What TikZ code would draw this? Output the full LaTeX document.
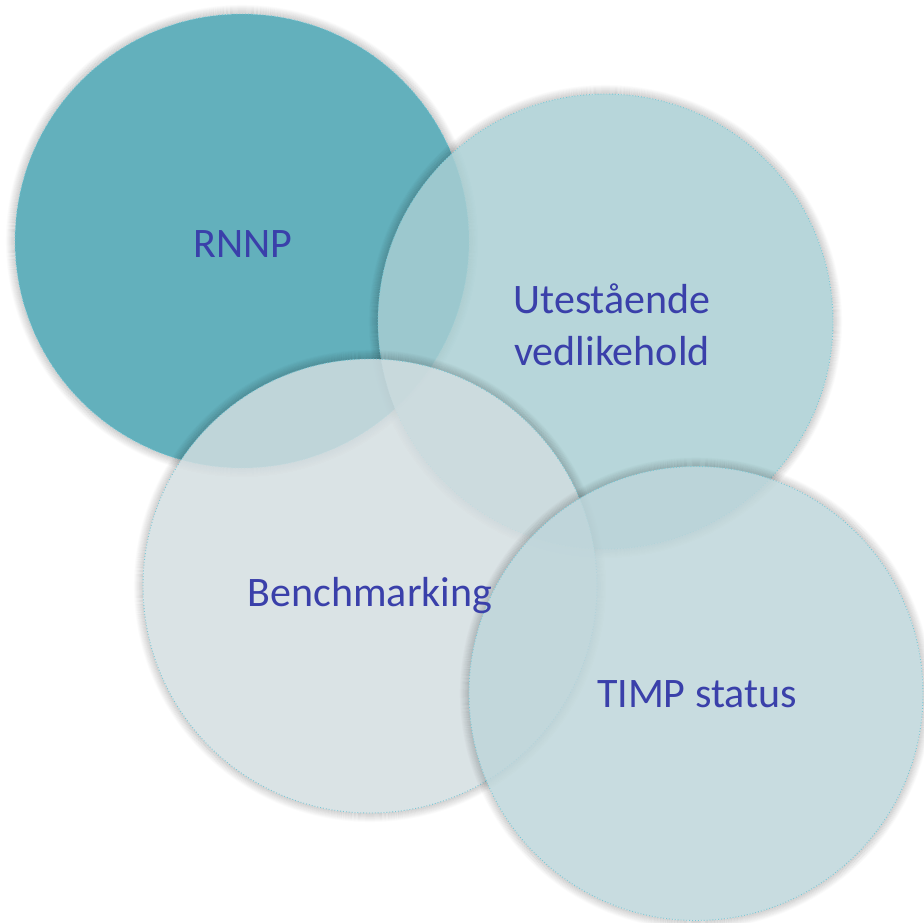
\documentclass[tikz,border=0pt]{standalone}
\usepackage{fontspec}
\setmainfont{Carlito}
\definecolor{cRNNP}{RGB}{99,176,188}
\definecolor{cUte}{RGB}{168,206,210}
\definecolor{cBench}{RGB}{210,221,224}
\definecolor{cTimp}{RGB}{189,213,218}
\definecolor{cEdge}{RGB}{120,200,214}
\definecolor{cText}{RGB}{58,64,170}
\tikzset{
  bubble/.style={draw=cEdge, dotted, line width=0.9pt, fill opacity=0.83},
  lbl/.style={text=cText, font=\fontsize{42}{52}\selectfont, align=center, inner sep=0pt},
}
\newcommand{\glowring}[3]{%
  \foreach \k in {1,...,9}{
    \draw[black, line width=1.1pt, draw opacity={0.05*(10-\k)/3}] (#1,#2) circle[radius={#3+\k-0.5}];
  }%
}
\begin{document}
\begin{tikzpicture}[x=1pt,y=-1pt]
\useasboundingbox (0,0) rectangle (924,923);
% RNNP
\glowring{242}{241}{227}
\path[bubble, fill=cRNNP, fill opacity=1] (242,241) circle[radius=227];
% Utestaende
\glowring{605.5}{321.5}{227.5}
\path[bubble, fill=cUte] (605.5,321.5) circle[radius=227.5];
% Benchmarking
\glowring{370}{586}{227}
\path[bubble, fill=cBench] (370,586) circle[radius=227];
% TIMP
\glowring{696}{693.5}{227}
\path[bubble, fill=cTimp] (696,693.5) circle[radius=227];
% labels
\node[lbl, anchor=base] (rnnp) at (243,257) {RNNP};
\node[lbl, anchor=base] (ute1) at (612,313) {Utestående};
\node[lbl, anchor=base] (ute2) at (612,365) {vedlikehold};
\node[lbl, anchor=base] (bench) at (370,606) {Benchmarking};
\node[lbl, anchor=base] (timp) at (697,707) {TIMP status};
\end{tikzpicture}
\end{document}
